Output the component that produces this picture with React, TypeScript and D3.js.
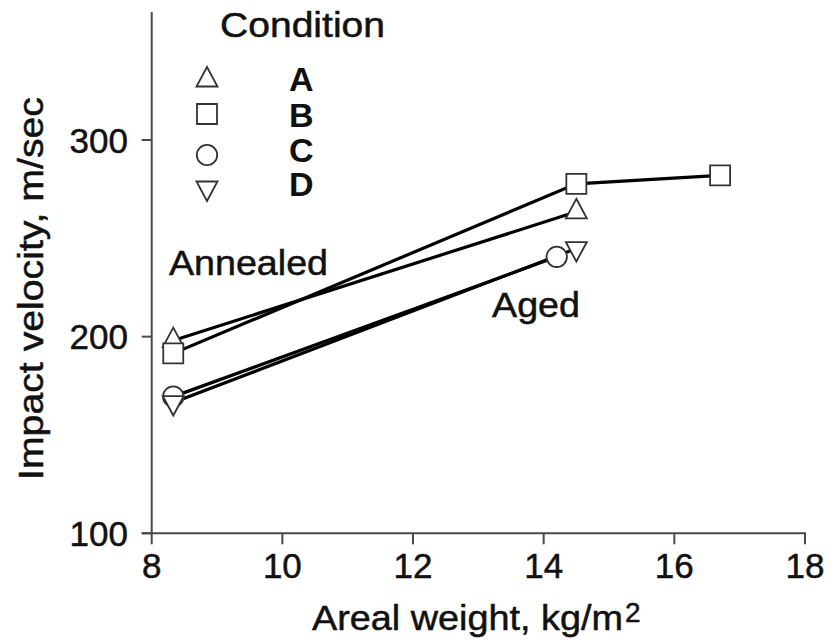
import React from 'react';
import * as d3 from 'd3';

const conditions = ['A', 'B', 'C', 'D'];
const markerKinds = ['triangle', 'square', 'circle', 'triangleDown'];

const xA = [8.33, 14.5];
const yA = [198, 263.5];
const xB = [8.33, 14.5, 16.7];
const yB = [191.5, 277.7, 282];
const xC = [8.33, 14.2];
const yC = [169.5, 240.6];
const xD = [8.33, 14.5];
const yD = [166.5, 244.8];

const xTicks = [8, 10, 12, 14, 16, 18];
const yTicks = [100, 200, 300];

const FONT = "'Liberation Sans', Arial, Helvetica, sans-serif";

function markerPath(kind: string): string {
  switch (kind) {
    case 'triangle':
      return 'M0,-13L10.5,6.5L-10.5,6.5Z';
    case 'triangleDown':
      return 'M0,13L10.5,-6.5L-10.5,-6.5Z';
    case 'square':
      return 'M-10,-10H10V10H-10Z';
    default:
      return d3.symbol(d3.symbolCircle, Math.PI * 10.2 * 10.2)() as string;
  }
}

export default function App() {
  const x = d3.scaleLinear().domain([8, 18]).range([151.7, 805]);
  const y = d3.scaleLinear().domain([100, 300]).range([533.3, 140]);
  const line = d3
    .line<[number, number]>()
    .x((d) => x(d[0]))
    .y((d) => y(d[1]));

  const series = [
    { xs: xA, ys: yA, kind: markerKinds[0] },
    { xs: xB, ys: yB, kind: markerKinds[1] },
    { xs: xC, ys: yC, kind: markerKinds[2] },
    { xs: xD, ys: yD, kind: markerKinds[3] },
  ].map((s) => ({ ...s, pts: s.xs.map((v, i) => [v, s.ys[i]] as [number, number]) }));

  const axisColor = '#4a4a4a';
  const legendY = [80, 114, 155, 188];
  const legendTextY = [91, 126.5, 162, 196];
  const txt = { fill: '#111', stroke: '#111', strokeWidth: 0.5 };

  return (
    <svg
      width={833}
      height={643}
      style={{ position: 'absolute', left: 0, top: 0, background: '#fff' }}
      fontFamily={FONT}
    >
      <rect x={0} y={0} width={833} height={643} fill="#fff" />
      {/* axes */}
      <line x1={x(8)} x2={x(8)} y1={12} y2={y(100)} stroke={axisColor} strokeWidth={2} />
      <line x1={x(8) - 10} x2={x(18) + 1} y1={y(100)} y2={y(100)} stroke={axisColor} strokeWidth={2} />
      {yTicks.map((t) => (
        <g key={'yt' + t}>
          <line x1={x(8) - 10} x2={x(8)} y1={y(t)} y2={y(t)} stroke={axisColor} strokeWidth={2} />
          <text x={128} y={y(t) + 12.5} fontSize={35} textAnchor="end" {...txt}>
            {t}
          </text>
        </g>
      ))}
      {xTicks.map((t) => (
        <g key={'xt' + t}>
          <line x1={x(t)} x2={x(t)} y1={y(100)} y2={y(100) + 11} stroke={axisColor} strokeWidth={2} />
          <text x={x(t)} y={578} fontSize={35} textAnchor="middle" {...txt}>
            {t}
          </text>
        </g>
      ))}
      {/* axis titles */}
      <text
        transform="translate(43,288.5) rotate(-90)"
        fontSize={35}
        textAnchor="middle"
        textLength={383}
        lengthAdjust="spacingAndGlyphs"
        {...txt}
      >
        Impact velocity, m/sec
      </text>
      <text x={312} y={630} fontSize={35} textLength={311} lengthAdjust="spacingAndGlyphs" {...txt}>
        Areal weight, kg/m
      </text>
      <text x={625} y={621.5} fontSize={28} {...txt}>
        2
      </text>
      {/* lines */}
      {series.map((s, i) => (
        <path key={'l' + i} d={line(s.pts) as string} fill="none" stroke="#000" strokeWidth={3.2} />
      ))}
      {/* markers */}
      {series.map((s, i) =>
        s.pts.map((p, j) => (
          <path
            key={'m' + i + '-' + j}
            d={markerPath(s.kind)}
            transform={`translate(${x(p[0])},${y(p[1])})`}
            fill="#fff"
            stroke="#333"
            strokeWidth={1.8}
          />
        ))
      )}
      {/* annotations */}
      <text x={169} y={275} fontSize={35} textLength={159} lengthAdjust="spacingAndGlyphs" {...txt}>
        Annealed
      </text>
      <text x={492} y={317} fontSize={35} textLength={88} lengthAdjust="spacingAndGlyphs" {...txt}>
        Aged
      </text>
      {/* legend */}
      <text x={220} y={36.7} fontSize={35} textLength={165} lengthAdjust="spacingAndGlyphs" {...txt}>
        Condition
      </text>
      {conditions.map((c, i) => (
        <g key={'lg' + c}>
          <path
            d={markerPath(markerKinds[i])}
            transform={`translate(207,${legendY[i]})`}
            fill="#fff"
            stroke="#333"
            strokeWidth={1.8}
          />
          <text x={289} y={legendTextY[i]} fontSize={34} fontWeight="bold" fill="#111">
            {c}
          </text>
        </g>
      ))}
    </svg>
  );
}
